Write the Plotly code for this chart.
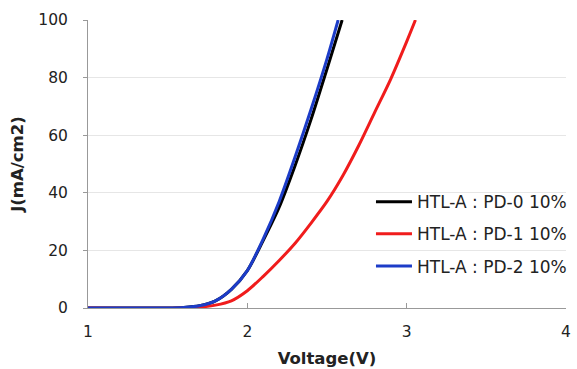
import plotly.graph_objects as go

v_black = [1.0, 1.5, 1.6, 1.7, 1.8, 1.9, 2.0, 2.1, 2.2, 2.3, 2.4, 2.5, 2.595]
j_black = [0, 0, 0.2, 0.8, 2.5, 6.5, 13, 23.5, 35, 49.5, 65.5, 83, 100]

v_red = [1.0, 1.6, 1.7, 1.8, 1.9, 2.0, 2.1, 2.2, 2.3, 2.4, 2.5, 2.6, 2.7, 2.8, 2.9, 3.0, 3.055]
j_red = [0, 0, 0.3, 1.0, 2.5, 6, 11, 16.5, 22.5, 29.5, 37, 46, 56.5, 68, 79.5, 92.5, 100]

v_blue = [1.0, 1.5, 1.6, 1.7, 1.8, 1.9, 2.0, 2.1, 2.2, 2.3, 2.4, 2.5, 2.57]
j_blue = [0, 0, 0.2, 0.8, 2.5, 6.5, 13, 24, 37, 52.5, 69, 86.5, 100]

names = ["HTL-A : PD-0 10%", "HTL-A : PD-1 10%", "HTL-A : PD-2 10%"]
colors = ["#000000", "#f01c1c", "#1c3cc8"]

x_ticks = [1, 2, 3, 4]
y_ticks = [0, 20, 40, 60, 80, 100]

fig = go.Figure()
for i, (vx, jy) in enumerate([(v_black, j_black), (v_red, j_red), (v_blue, j_blue)]):
    fig.add_trace(go.Scatter(x=vx, y=jy, mode="lines", name=names[i],
                             line=dict(color=colors[i], width=3, shape="spline", smoothing=0.8),
                             legendgroup=f"g{i}"))

fig.update_layout(
    width=577, height=369,
    margin=dict(l=88, r=5, t=20, b=61),
    paper_bgcolor="white", plot_bgcolor="white",
    font=dict(family="DejaVu Sans", size=15.5, color="#222222"),
    showlegend=True,
    legend=dict(x=0.592, y=0.43, xanchor="left", yanchor="top",
                bgcolor="rgba(0,0,0,0)", tracegroupgap=7, itemwidth=36,
                font=dict(size=17, color="#222222")),
    xaxis=dict(range=[1, 4], tickvals=x_ticks, showgrid=False,
               showline=True, linecolor="#999999", linewidth=1,
               ticks="inside", ticklen=5, tickcolor="#999999",
               ticklabelstandoff=9,
               zeroline=False,
               title=dict(text="<b>Voltage(V)</b>", font=dict(size=16.5, color="#222222"), standoff=12)),
    yaxis=dict(range=[0, 100], tickvals=y_ticks, showgrid=True,
               gridcolor="#e6e6e6", gridwidth=1,
               showline=True, linecolor="#999999", linewidth=1,
               ticks="outside", ticklen=4, tickcolor="#999999",
               ticklabelstandoff=12,
               zeroline=False,
               title=dict(text="<b>J(mA/cm2)</b>", font=dict(size=16.5, color="#222222"), standoff=10)),
)

fig.write_html("out.html")
